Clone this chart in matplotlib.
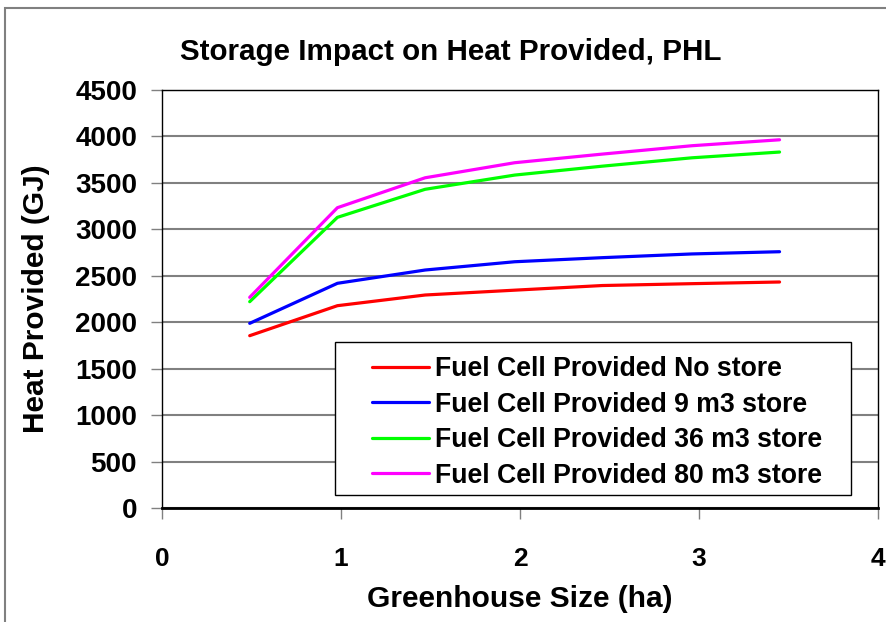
import matplotlib
matplotlib.use("Agg")
import matplotlib.pyplot as plt
from matplotlib.patches import Rectangle

plt.rcParams['font.family'] = ['Liberation Sans', 'DejaVu Sans']
plt.rcParams['font.weight'] = 'bold'

sizes = [0.49, 0.98, 1.47, 1.97, 2.46, 2.96, 3.45]
no_store = [1855, 2178, 2293, 2345, 2395, 2415, 2433]
store_9 = [1988, 2419, 2562, 2651, 2695, 2735, 2759]
store_36 = [2221, 3129, 3431, 3584, 3680, 3770, 3832]
store_80 = [2268, 3233, 3555, 3717, 3810, 3900, 3964]

labels = ["Fuel Cell Provided No store", "Fuel Cell Provided 9 m3 store",
          "Fuel Cell Provided 36 m3 store", "Fuel Cell Provided 80 m3 store"]
colors = ["#ff0000", "#0000ff", "#00ff00", "#ff00ff"]

W, H = 886, 622
fig = plt.figure(figsize=(W/100, H/100), dpi=100)
L, R, T, B = 162, 878, 90, 508
ax = fig.add_axes([L/W, 1-B/H, (R-L)/W, (B-T)/H])

for y, lab, c in zip([no_store, store_9, store_36, store_80], labels, colors):
    ax.plot(sizes, y, color=c, lw=2.3, label=lab, solid_capstyle='round')

ax.set_xlim(0, 4)
ax.set_ylim(0, 4500)
ax.set_xticks([0, 1, 2, 3, 4])
ax.set_yticks(range(0, 4501, 500))
ax.yaxis.grid(True, color='#808080', lw=1.5)
ax.set_axisbelow(True)
for s in ['top', 'right', 'left']:
    ax.spines[s].set_linewidth(1.0)
    ax.spines[s].set_color('black')
ax.spines['bottom'].set_linewidth(2.0)
ax.tick_params(axis='x', direction='out', length=8, width=1, color='#808080', pad=20, labelsize=19)
ax.tick_params(axis='y', direction='out', length=8, width=1, color='#808080', pad=10, labelsize=20)
for t in ax.get_xticklabels() + ax.get_yticklabels():
    t.set_fontweight('bold')

ax.set_xlabel("Greenhouse Size (ha)", fontsize=21.5, fontweight='bold', labelpad=10)
ax.set_ylabel("Heat Provided (GJ)", fontsize=21.5, fontweight='bold', labelpad=18)
fig.text(451/W, 1-52/H, "Storage Impact on Heat Provided, PHL", fontsize=21.3,
         fontweight='bold', ha='center', va='center')

# legend box (drawn manually), entries placed inside
bx0, bx1, by0, by1 = 335, 851, 342, 495
ax.add_patch(Rectangle(((bx0-L)/(R-L), (B-by1)/(B-T)), (bx1-bx0)/(R-L), (by1-by0)/(B-T),
                       transform=ax.transAxes, facecolor='white', edgecolor='black',
                       lw=1.0, zorder=5))
leg = ax.legend(loc='upper left', bbox_to_anchor=((372-L)/(R-L), (B-356)/(B-T)),
                borderaxespad=0, frameon=False,
                prop={'size': 19.2, 'weight': 'bold'}, handlelength=2.15,
                labelspacing=0.36, borderpad=0.0, handletextpad=0.22)
leg.set_zorder(6)

fig.patches.append(Rectangle((5/W, -0.1), 1.1, 1 - 8/H + 0.1, transform=fig.transFigure,
                             fill=False, edgecolor='#808080', lw=1.5))

fig.savefig("out.png", dpi=100)
